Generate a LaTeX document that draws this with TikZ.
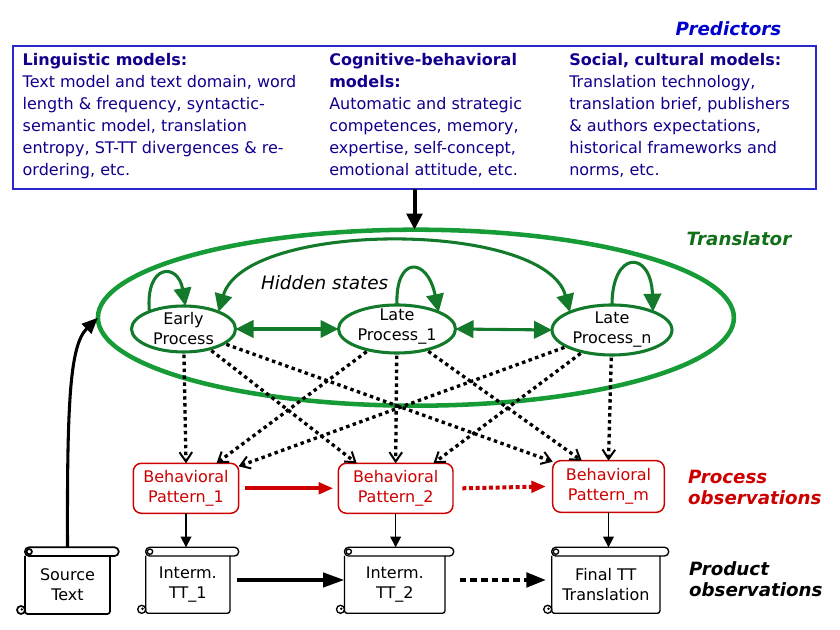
\documentclass[tikz,border=0pt]{standalone}
\usepackage{fontspec}
\setmainfont{DejaVu Sans}
\usetikzlibrary{shapes.geometric,arrows.meta,calc}
\definecolor{predtext}{RGB}{16,0,140}
\definecolor{predlab}{RGB}{0,0,205}
\definecolor{predframe}{RGB}{40,40,205}
\definecolor{biggreen}{RGB}{22,155,55}
\definecolor{stgreen}{RGB}{18,122,42}
\definecolor{trgreen}{RGB}{18,112,25}
\definecolor{obsred}{RGB}{205,0,0}
\newcommand{\drawscrollframe}[2]{%
  \draw[line width=#1,rounded corners=3pt,fill=white] ([yshift=6.5pt]#2.north west) -- ([xshift=6.5pt,yshift=6.5pt]#2.north east) -- ([xshift=6.5pt]#2.north east) -- (#2.north west) -- cycle;
  \draw[line width=#1,rounded corners=2pt] (#2.north west) -- (#2.south west) -- (#2.south east) -- (#2.north east);
  \draw[line width=#1,fill=white] ([xshift=-3pt,yshift=3pt]#2.south west) circle[radius=3pt];
  \fill ([xshift=-2.4pt,yshift=3.4pt]#2.south west) circle[radius=1pt];
  \draw[line width=#1,fill=white] ([xshift=3.2pt,yshift=3.25pt]#2.north west) circle[radius=2pt];
}
\begin{document}
\begin{tikzpicture}[x=0.75pt,y=-0.75pt,
  every node/.style={inner sep=0pt,outer sep=0pt},
  txt/.style={font=\fontsize{12}{15}\selectfont,align=center},
  predcol/.style={anchor=base west,align=left,text=predtext,font=\fontsize{12}{16.5}\selectfont},
  biglabel/.style={font=\fontsize{13.7}{15.75}\selectfont\bfseries\itshape,align=left},
  stateshape/.style={ellipse,draw=stgreen,line width=2.3pt},
  bigell/.style={ellipse,draw=biggreen,line width=3.4pt},
  bpbox/.style={txt,draw=obsred,line width=1.1pt,rounded corners=6pt,text=obsred},
  garrow/.style={stgreen,line width=2.3pt,-{Triangle[length=13.5pt,width=13pt]}},
  gdarrow/.style={stgreen,line width=2.3pt,{Triangle[length=13.5pt,width=13pt]}-{Triangle[length=13.5pt,width=13pt]}},
  dotarrow/.style={black,line width=2.5pt,dash pattern=on 2.6pt off 2.6pt,-{Straight Barb[length=7pt,width=9.5pt,line width=1.5pt]},shorten <=2pt},
  bigarrow/.style={black,line width=3pt,-{Triangle[length=12pt,width=11.5pt]}},
  srcarrow/.style={black,line width=2.3pt,-{Triangle[length=12pt,width=10pt]}},
  thinarrow/.style={black,line width=1.2pt,-{Triangle[length=8pt,width=8pt]}},
  ttarrow/.style={black,line width=3pt,-{Triangle[length=16pt,width=10.5pt]}},
  ttdotarrow/.style={black,line width=3.5pt,dash pattern=on 5pt off 3pt,-{Triangle[length=15pt,width=10.5pt]}},
  redarrow/.style={obsred,line width=3pt,-{Triangle[length=11pt,width=8.5pt]}},
  reddotarrow/.style={obsred,line width=3pt,dash pattern=on 3pt off 2pt,-{Triangle[length=11pt,width=8.5pt]}}
]
\useasboundingbox (0,0) rectangle (840,630);

% Predictors
\node[biglabel,anchor=base,text=predlab] (predlabel) at (728.5,35.3) {Predictors};
\node[draw=predframe,line width=1.5pt,anchor=north west,minimum width=602.25pt,minimum height=107.25pt] (pred) at (13,46) {};
\node[predcol] (col1) at (22.7,175.3) {\textbf{Linguistic models:}\\Text model and text domain, word\\length \& frequency, syntactic-\\semantic model, translation\\entropy, ST-TT divergences \& re-\\ordering, etc.};
\node[predcol] (col2) at (329.3,175.3) {\textbf{Cognitive-behavioral}\\\textbf{models:}\\Automatic and strategic\\competences, memory,\\expertise, self-concept,\\emotional attitude, etc.};
\node[predcol] (col3) at (569.3,175.3) {\textbf{Social, cultural models:}\\Translation technology,\\translation brief, publishers\\\& authors expectations,\\historical frameworks and\\norms, etc.};

% Translator
\node[biglabel,anchor=base,text=trgreen] (trlabel) at (739,246) {Translator};
\node[bigell,minimum width=477pt,minimum height=132pt] (tr) at (415.9,317.7) {};
\draw[bigarrow] (pred.south) -- (pred.south |- tr.north);

% hidden states
\node[stateshape,minimum width=78pt,minimum height=34.5pt] (early) at (183.5,329) {};
\node[stateshape,minimum width=87.75pt,minimum height=36pt] (late1) at (397,329) {};
\node[stateshape,minimum width=90pt,minimum height=37.5pt] (laten) at (612,330) {};
\node[txt] (earlyt) at (early) {Early\\Process};
\node[txt] (late1t) at ([yshift=2pt]late1.center) {Late\\Process\_1};
\node[txt] (lantt) at (laten) {Late\\Process\_n};
\node[anchor=base west,font=\fontsize{13.8}{16}\selectfont\itshape] (hidden) at (261,289.3) {Hidden states};

\draw[garrow] (early.153) .. controls +(-4.5,-48) and +(-7.5,-44) .. (early.85);
\draw[garrow] (late1.north) .. controls +(-2,-49) and +(-11.6,-56) .. (late1.22);
\draw[garrow] (laten.north) .. controls +(0,-55) and +(-2,-62) .. (laten.24);
\draw[gdarrow] (early.26) .. controls +(27,-92) and +(-25,-92) .. (laten.157);
\draw[gdarrow] (early.east) -- (late1.west);
\draw[gdarrow] (late1.east) -- (laten.west);

% process observations
\node[bpbox,minimum width=79pt,minimum height=37.5pt] (bp1) at (186,488.3) {Behavioral\\Pattern\_1};
\node[bpbox,minimum width=86pt,minimum height=37.5pt] (bp2) at (395.65,488.3) {Behavioral\\Pattern\_2};
\node[bpbox,minimum width=83.7pt,minimum height=38.7pt] (bpm) at (608.5,486.5) {Behavioral\\Pattern\_m};
\node[biglabel,anchor=base west,text=obsred] (proclabel) at (688,505) {Process\\observations};

\draw[redarrow] ([xshift=5pt]bp1.east) -- ([xshift=-3.75pt]bp2.west);
\draw[reddotarrow] ([xshift=7pt]bp2.east) -- ([xshift=-5pt]bpm.west);

% dotted emissions
\draw[dotarrow] (early) -- (bp1.north);
\draw[dotarrow] (early) -- ($(bp2.north west)!0.16!(bp2.north east)$);
\draw[dotarrow] (early) -- ($(bpm.north west)+(0,1)$);
\draw[dotarrow] (late1) -- ($(bp1.north west)!0.79!(bp1.north east)$);
\draw[dotarrow] (late1) -- (bp2.north);
\draw[dotarrow] (late1) -- ($(bpm.north west)!0.26!(bpm.north east)$);
\draw[dotarrow] (laten) -- ($(bp1.north east)+(0,3)$);
\draw[dotarrow] (laten) -- ($(bp2.north west)!0.83!(bp2.north east)$);
\draw[dotarrow] (laten) -- (bpm.north);

% product observations
\node[txt,minimum width=63.75pt,minimum height=43.5pt] (src) at (67.5,585) {Source\\Text};
\node[txt,minimum width=63.2pt,minimum height=43pt] (tt1) at (187.85,584.65) {Interm.\\TT\_1};
\node[txt,minimum width=75.4pt,minimum height=43pt] (tt2) at (394.75,584.65) {Interm.\\TT\_2};
\node[txt,minimum width=81.2pt,minimum height=43pt] (final) at (605.85,584.65) {Final TT\\Translation};
\drawscrollframe{1.3pt}{src}
\drawscrollframe{1pt}{tt1}
\drawscrollframe{1pt}{tt2}
\drawscrollframe{1pt}{final}
\node[biglabel,anchor=base west,text=black] (prodlabel) at (689,597) {Product\\observations};

\coordinate (srctop) at ([yshift=6.5pt]src.north);
\coordinate (tt1top) at ([yshift=6.5pt]tt1.north);
\coordinate (tt2top) at ([yshift=6.5pt]tt2.north);
\coordinate (finaltop) at ([yshift=6.5pt]final.north);
\draw[srcarrow] (srctop) .. controls (67,400) and (70,345) .. (tr.west);
\draw[thinarrow] (bp1.south) -- (bp1.south |- tt1top);
\draw[thinarrow] (bp2.south) -- (bp2.south |- tt2top);
\draw[thinarrow] (bpm.south) -- (bpm.south |- finaltop);
\draw[ttarrow] ([xshift=5.5pt,yshift=3.5pt]tt1.east) -- ([yshift=3.5pt]tt2.west);
\draw[ttdotarrow] ([xshift=11pt,yshift=3.5pt]tt2.east) -- ([xshift=-4pt,yshift=3.5pt]final.west);
\end{tikzpicture}
\end{document}
